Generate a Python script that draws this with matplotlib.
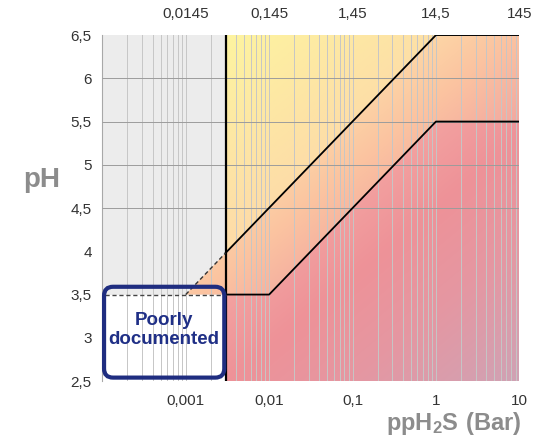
import numpy as np
import matplotlib
matplotlib.use('Agg')
import matplotlib.pyplot as plt
from matplotlib.patches import Polygon, FancyBboxPatch
from matplotlib.colors import to_rgb
from matplotlib.ticker import LogLocator, NullLocator, FixedLocator, NullFormatter

plt.rcParams['font.family'] = ['Liberation Sans', 'DejaVu Sans']
plt.rcParams['mathtext.fontset'] = 'custom'
plt.rcParams['mathtext.rm'] = 'Liberation Sans'
plt.rcParams['mathtext.bf'] = 'Liberation Sans:bold'

# ---------------- data ----------------
x_ticks = [0.001, 0.01, 0.1, 1, 10]
x_tick_labels = ['0,001', '0,01', '0,1', '1', '10']
top_tick_labels = ['0,0145', '0,145', '1,45', '14,5', '145']
y_ticks = [2.5, 3, 3.5, 4, 4.5, 5, 5.5, 6, 6.5]
y_tick_labels = ['2,5', '3', '3,5', '4', '4,5', '5', '5,5', '6', '6,5']
x_min, x_max = 0.0001, 10
y_min, y_max = 2.5, 6.5
threshold_p = 0.003
upper_p = [0.003, 1, 10]
upper_ph = [3.98, 6.5, 6.5]
lower_p = [0.003, 0.01, 1, 10]
lower_ph = [3.5, 3.5, 5.5, 5.5]
dashed_diag_p = [0.001, 0.003]
dashed_diag_ph = [3.5, 3.98]
dashed_h_p = [0.000107, 0.003]
dashed_h_ph = [3.5, 3.5]
hgrid_ph = [4.5, 5, 5.5, 6]
box_p = [0.000105, 0.0029]
box_ph = [2.54, 3.59]
box_text = 'Poorly\ndocumented'

# ---------------- figure ----------------
fig = plt.figure(figsize=(5.47, 4.36), dpi=100)
ax = fig.add_axes([0.187, 0.126, 0.7625, 0.7936])
ax.set_xscale('log')

# gray region (left of threshold, above pH 3.5)
ax.fill_between([x_min, threshold_p], lower_ph[0], y_max, color='#ececec', lw=0, zorder=0)


def grad_region(stops, verts):
    n = 300
    u = np.linspace(0, 1, n)
    U, V = np.meshgrid(u, u)
    D = U - V
    pos = [s[0] for s in stops]
    cols = np.array([to_rgb(s[1]) for s in stops])
    img = np.stack([np.interp(D, pos, cols[:, k]) for k in range(3)], axis=-1)
    im = ax.imshow(img, origin='lower', extent=(0, 1, 0, 1), transform=ax.transAxes,
                   aspect='auto', interpolation='bilinear', zorder=0.5)
    poly = Polygon(verts, closed=True, transform=ax.transData, facecolor='none', edgecolor='none')
    im.set_clip_path(poly)


# region 1 (yellow, above upper line)
r1 = [(upper_p[0], upper_ph[0]), (threshold_p, y_max), (upper_p[1], upper_ph[1])]
grad_region([(-0.7, '#fdf4a0'), (-0.1, '#fddca8')], r1)

# region 2 (orange, between lines, incl. dashed extension)
r2 = [(dashed_diag_p[0], dashed_diag_ph[0]), (upper_p[0], upper_ph[0]), (upper_p[1], upper_ph[1]),
      (upper_p[2], upper_ph[2]), (lower_p[3], lower_ph[3]), (lower_p[2], lower_ph[2]),
      (lower_p[1], lower_ph[1])]
grad_region([(-0.2, '#fdd6a6'), (0.0, '#fbc2a0'), (0.25, '#f2a8a0')], r2)

# region 3 (red, below lower line)
r3 = [(threshold_p, y_min), (lower_p[0], lower_ph[0]), (lower_p[1], lower_ph[1]),
      (lower_p[2], lower_ph[2]), (lower_p[3], lower_ph[3]), (x_max, y_min)]
grad_region([(0.05, '#f3a2a0'), (0.3, '#ee9298'), (0.6, '#e597a2'), (1.0, '#d0a2b4')], r3)

# grid
ax.xaxis.set_minor_locator(LogLocator(base=10, subs=np.arange(2, 10)))
ax.xaxis.set_minor_formatter(NullFormatter())
ax.set_axisbelow(False)
ax.grid(True, which='both', axis='x', color='#c6c6c6', lw=0.7)
ax.hlines(hgrid_ph, x_min, x_max, color='#9c9c9c', lw=0.7, zorder=2.6)

# boundary lines
ax.plot(upper_p, upper_ph, color='black', lw=1.3, zorder=3)
ax.plot(lower_p, lower_ph, color='black', lw=1.3, zorder=3)
ax.vlines(threshold_p, y_min, y_max, color='black', lw=1.6, zorder=3)
ax.plot(dashed_diag_p, dashed_diag_ph, color='#333333', lw=1.0, ls=(0, (3, 2)), zorder=3)
ax.plot(dashed_h_p, dashed_h_ph, color='#444444', lw=1.0, ls=(0, (3, 2)), zorder=3)

# limits & ticks
ax.set_xlim(x_min, x_max)
ax.set_ylim(y_min, y_max)
ax.xaxis.set_major_locator(FixedLocator(x_ticks))
ax.set_xticklabels(x_tick_labels)
ax.set_yticks(y_ticks)
ax.set_yticklabels(y_tick_labels)
ax.tick_params(axis='x', which='both', length=0, pad=9, labelsize=11, labelcolor='#333333')
ax.tick_params(axis='y', length=0, pad=7.5, labelsize=11, labelcolor='#333333')
for s in ['top', 'right', 'bottom']:
    ax.spines[s].set_visible(False)
ax.spines['left'].set_color('#a8a8a8')
ax.spines['left'].set_linewidth(0.8)

secax = ax.secondary_xaxis('top')
secax.xaxis.set_major_locator(FixedLocator(x_ticks))
secax.set_xticklabels(top_tick_labels)
secax.xaxis.set_minor_locator(NullLocator())
secax.tick_params(length=0, pad=10, labelsize=11, labelcolor='#333333')
secax.spines['top'].set_visible(False)

# poorly documented box
bx0 = (np.log10(box_p[0]) - np.log10(x_min)) / (np.log10(x_max) - np.log10(x_min))
bx1 = (np.log10(box_p[1]) - np.log10(x_min)) / (np.log10(x_max) - np.log10(x_min))
by0 = (box_ph[0] - y_min) / (y_max - y_min)
by1 = (box_ph[1] - y_min) / (y_max - y_min)
ax_w_px = 0.7625 * 547
ax_h_px = 0.7936 * 436
box = FancyBboxPatch((bx0, by0), bx1 - bx0, by1 - by0,
                     boxstyle=f"round,pad=0,rounding_size={9 / ax_w_px}",
                     mutation_aspect=ax_w_px / ax_h_px,
                     transform=ax.transAxes, facecolor='none', edgecolor='#1f2d80',
                     lw=3, clip_on=False, zorder=5)
ax.add_patch(box)
ax.text((bx0 + bx1) / 2, (by0 + by1) / 2 + 0.005, box_text, transform=ax.transAxes,
        ha='center', va='center', fontsize=13.5, fontweight='bold', color='#1f2f86',
        linespacing=1.15, zorder=6)

# axis titles
fig.text(42 / 547, 1 - 180 / 436, 'pH', fontsize=20, fontweight='bold', color='#8c8c8c',
         ha='center', va='center')
fig.text(454 / 547, 1 - 423 / 436, r'$\mathbf{ppH_2S\ (Bar)}$', fontsize=17, color='#8c8c8c',
         ha='center', va='center')

fig.savefig('out.png', dpi=100)
